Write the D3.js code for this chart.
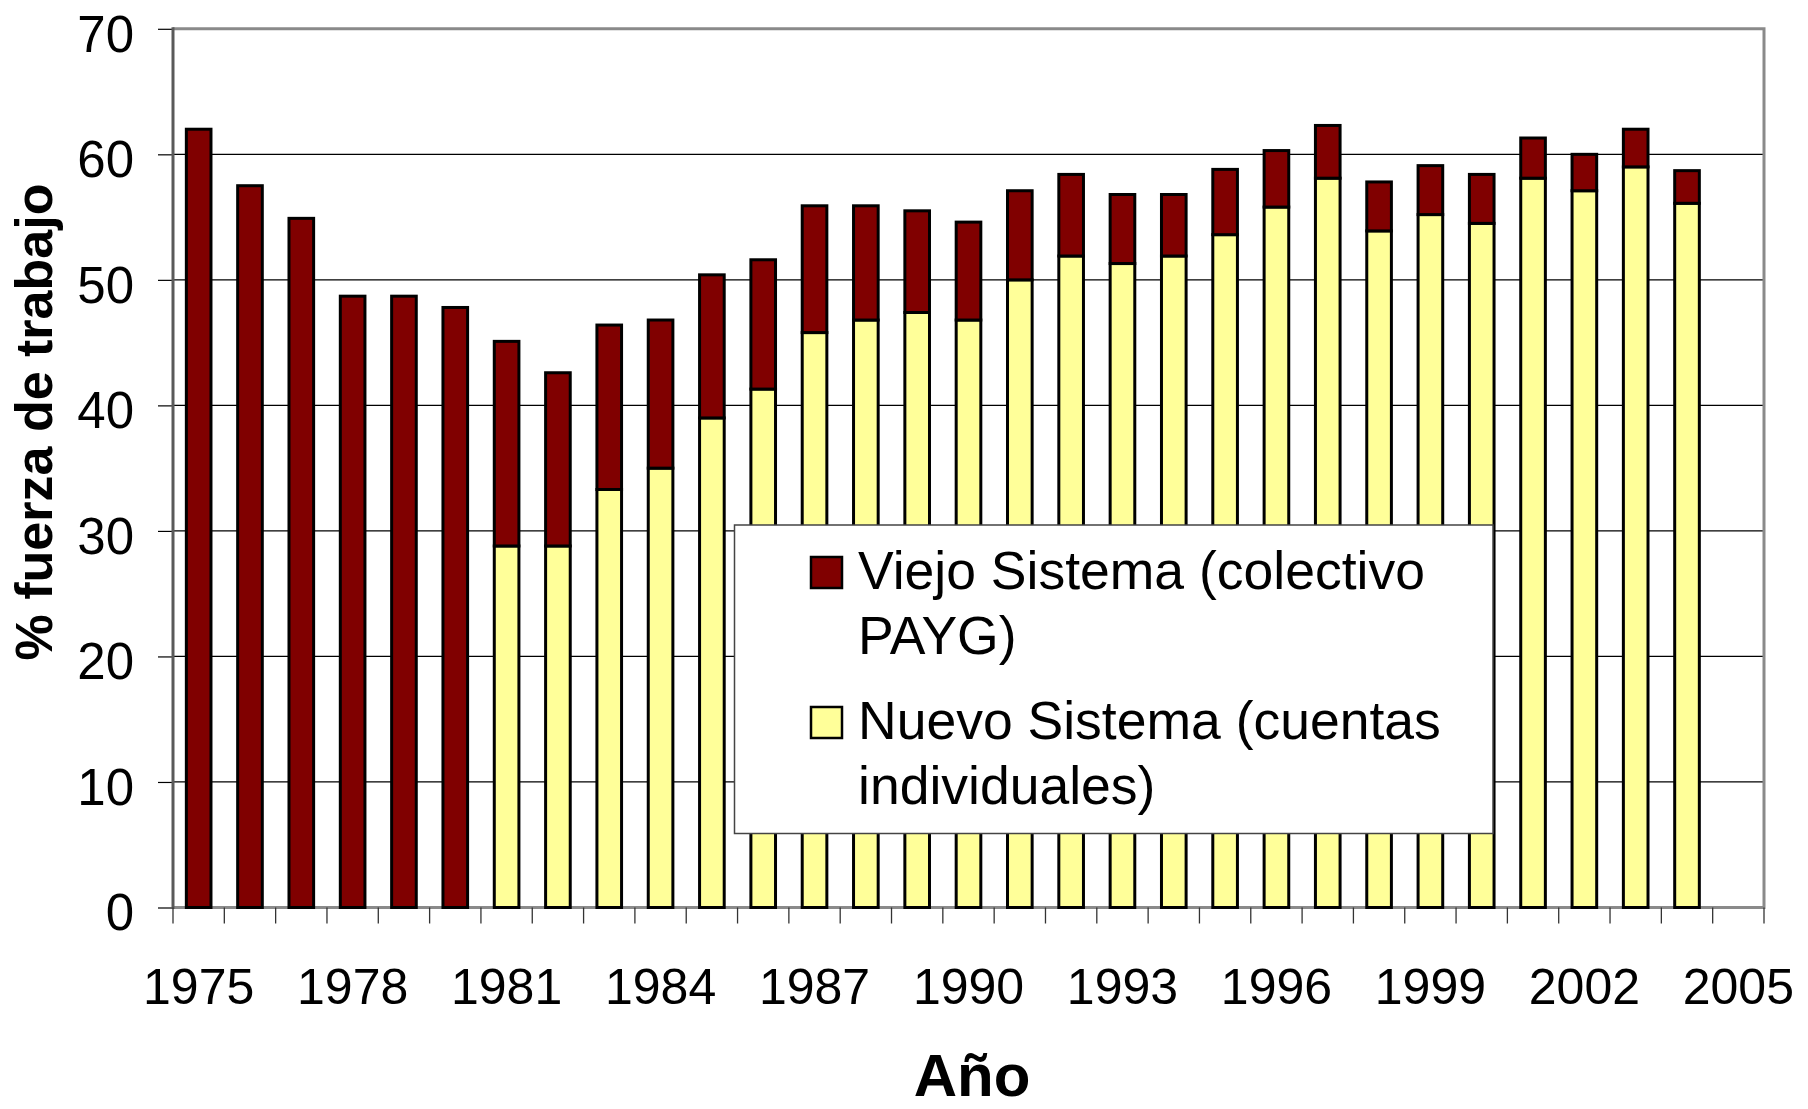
<!DOCTYPE html>
<html>
<head>
<meta charset="utf-8">
<script src="https://cdn.jsdelivr.net/npm/d3@7"></script>
<style>
    body { margin: 0; background: #fff; }
    text { font-family: "Liberation Sans", Arial, sans-serif; fill: #000; }
</style>
</head>
<body>
<div id="vis"></div>
<script>
// categories on the x axis (2005 has no bar)
const categories = ['1975','1976','1977','1978','1979','1980','1981','1982','1983','1984',
    '1985','1986','1987','1988','1989','1990','1991','1992','1993','1994',
    '1995','1996','1997','1998','1999','2000','2001','2002','2003','2004','2005']

const years = ['1975','1976','1977','1978','1979','1980','1981','1982','1983','1984',
    '1985','1986','1987','1988','1989','1990','1991','1992','1993','1994',
    '1995','1996','1997','1998','1999','2000','2001','2002','2003','2004']

// Nuevo Sistema (cuentas individuales) - bottom segment
const nuevo = [0, 0, 0, 0, 0, 0, 28.8, 28.8, 33.3, 35.0,
    39.0, 41.3, 45.8, 46.8, 47.4, 46.8, 50.0, 51.9, 51.3, 51.9,
    53.6, 55.8, 58.1, 53.9, 55.2, 54.5, 58.1, 57.1, 59.0, 56.1]

// Viejo Sistema (colectivo PAYG) - top segment
const viejo = [62.0, 57.5, 54.9, 48.7, 48.7, 47.8, 16.3, 13.8, 13.1, 11.8,
    11.4, 10.3, 10.1, 9.1, 8.1, 7.8, 7.1, 6.5, 5.5, 4.9,
    5.2, 4.5, 4.2, 3.9, 3.9, 3.9, 3.2, 2.9, 3.0, 2.6]

const xTickLabels = ['1975','1978','1981','1984','1987','1990','1993','1996','1999','2002','2005']
const yTicks = [0, 10, 20, 30, 40, 50, 60, 70]

const seriesNames = ['Viejo Sistema (colectivo|PAYG)', 'Nuevo Sistema (cuentas|individuales)']
const seriesColors = {viejo: '#800000', nuevo: '#ffff99'}

const plot = {left: 173, right: 1764, top: 28.8, bottom: 907.5}

let svg = d3.select('#vis')
    .append('svg')
    .attr('width', 1808)
    .attr('height', 1109)
    .style('display', 'block')

let xScale = d3.scaleBand()
    .domain(categories)
    .range([plot.left, plot.right])
    .paddingInner(0.52)
    .paddingOuter(0.26)

let yScale = d3.scaleLinear()
    .domain([0, 70])
    .range([plot.bottom, plot.top])

// gridlines
svg.append('g')
    .selectAll('line')
    .data(yTicks.filter(d => d > 0 && d < 70))
    .enter()
    .append('line')
        .attr('x1', plot.left)
        .attr('x2', plot.right)
        .attr('y1', d => yScale(d))
        .attr('y2', d => yScale(d))
        .attr('stroke', '#000')
        .attr('stroke-width', 1.2)

// plot frame (top, right, bottom in grey)
svg.append('path')
    .attr('d', `M${plot.left},${plot.top}H${plot.right}V${plot.bottom}H${plot.left}`)
    .attr('fill', 'none')
    .attr('stroke', '#8a8a8a')
    .attr('stroke-width', 3)

// y axis
let yAxis = svg.append('g')
    .attr('transform', `translate(${plot.left},0)`)
    .call(d3.axisLeft(yScale).tickValues(yTicks).tickSize(15).tickPadding(24))
yAxis.select('.domain').remove()
yAxis.selectAll('.tick line').attr('stroke', '#000').attr('stroke-width', 1.2)
yAxis.selectAll('text')
    .style('font-size', '51px')
    .attr('dy', '0.44em')

svg.append('line')
    .attr('x1', plot.left).attr('x2', plot.left)
    .attr('y1', plot.top - 1.5).attr('y2', plot.bottom + 1.5)
    .attr('stroke', '#5a5a5a')
    .attr('stroke-width', 3)

// x axis: ticks at category boundaries, labels every 3 years
let step = xScale.step()
let boundaries = categories.map(c => xScale(c) - step * xScale.paddingInner() / 2)
boundaries.push(plot.right)

svg.append('g')
    .selectAll('line')
    .data(boundaries)
    .enter()
    .append('line')
        .attr('x1', d => d)
        .attr('x2', d => d)
        .attr('y1', plot.bottom)
        .attr('y2', plot.bottom + 16)
        .attr('stroke', '#333')
        .attr('stroke-width', 1.3)

let xAxis = svg.append('g')
    .attr('transform', `translate(0,${plot.bottom})`)
    .call(d3.axisBottom(xScale).tickValues(xTickLabels).tickSize(0).tickPadding(61))
xAxis.select('.domain').remove()
xAxis.selectAll('text').style('font-size', '50px')

// stacked bars
let table = years.map((y, i) => ({year: y, nuevo: nuevo[i], viejo: viejo[i]}))
let stacked = d3.stack().keys(['nuevo', 'viejo'])(table)

svg.append('g')
    .selectAll('g')
    .data(stacked)
    .enter()
    .append('g')
        .attr('fill', d => seriesColors[d.key])
    .selectAll('rect')
    .data(d => d.filter(s => s[1] - s[0] > 0))
    .enter()
    .append('rect')
        .attr('x', d => xScale(d.data.year))
        .attr('width', xScale.bandwidth())
        .attr('y', d => yScale(d[1]))
        .attr('height', d => yScale(d[0]) - yScale(d[1]))
        .attr('stroke', '#000')
        .attr('stroke-width', 3)

// legend
let legend = svg.append('g')
    .attr('class', 'legend')

legend.append('rect')
    .attr('x', 734.5)
    .attr('y', 525)
    .attr('width', 758.5)
    .attr('height', 308.5)
    .attr('fill', '#fff')
    .attr('stroke', '#444')
    .attr('stroke-width', 1.5)

let legendKeys = ['viejo', 'nuevo']
legendKeys.forEach((k, i) => {
    let baseY = 589 + i * 150
    legend.append('rect')
        .attr('x', 811)
        .attr('y', baseY - 32)
        .attr('width', 31)
        .attr('height', 31)
        .attr('fill', seriesColors[k])
        .attr('stroke', '#000')
        .attr('stroke-width', 2.5)
    let lines = seriesNames[i].split('|')
    let t = legend.append('text')
        .attr('x', 858)
        .attr('y', baseY)
        .style('font-size', '53.5px')
    lines.forEach((l, j) => {
        t.append('tspan')
            .attr('x', 858)
            .attr('dy', j === 0 ? 0 : 65)
            .text(l)
    })
})

// axis titles
svg.append('text')
    .attr('transform', 'translate(52,422) rotate(-90)')
    .attr('text-anchor', 'middle')
    .style('font-size', '52px')
    .style('font-weight', 'bold')
    .text('% fuerza de trabajo')

svg.append('text')
    .attr('x', 972)
    .attr('y', 1096)
    .attr('text-anchor', 'middle')
    .style('font-size', '60px')
    .style('font-weight', 'bold')
    .text('Año')
</script>
</body>
</html>
